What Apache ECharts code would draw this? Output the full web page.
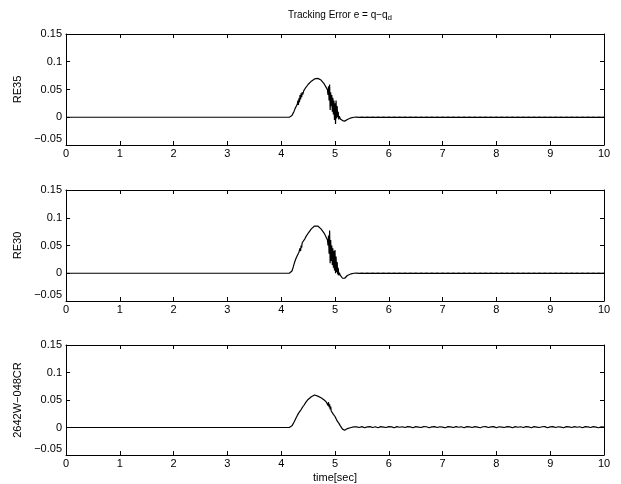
<!DOCTYPE html>
<html>
<head>
<meta charset="utf-8">
<script src="https://cdn.jsdelivr.net/npm/echarts@6/dist/echarts.min.js"></script>
<style>
  html, body { margin: 0; padding: 0; background: #fff; }
  #chart { width: 621px; height: 484px; }
</style>
</head>
<body>
<div id="chart"></div>
<script>
// panel names (y axis labels)
const panelNames = ['RE35', 'RE30', '2642W\u2212048CR'];
const xTicks = [0, 1, 2, 3, 4, 5, 6, 7, 8, 9, 10];
const yTicks = [-0.05, 0, 0.05, 0.1, 0.15];

// time samples around the transient (sec)
const tBump = [0.00, 4.00, 4.10, 4.15, 4.18, 4.20, 4.22, 4.24, 4.26, 4.28,
  4.30, 4.31, 4.32, 4.33, 4.34, 4.35, 4.36, 4.37, 4.38, 4.39,
  4.40, 4.42, 4.44, 4.46, 4.48, 4.50, 4.53, 4.56, 4.59, 4.62,
  4.65, 4.68, 4.71, 4.74, 4.77, 4.80, 4.82, 4.84, 4.86, 4.87,
  4.88, 4.89, 4.90, 4.91, 4.92, 4.93, 4.94, 4.95, 4.96, 4.97,
  4.98, 4.99, 5.00, 5.01, 5.02, 5.03, 5.04, 5.05, 5.06, 5.07,
  5.08, 5.10, 5.12, 5.14, 5.16, 5.18, 5.20, 5.23, 5.26, 5.30,
  5.35];

const re35Bump = [0, 0, 0, 0, 0.001, 0.003, 0.007, 0.011, 0.016, 0.020,
  0.024, 0.030, 0.022, 0.034, 0.027, 0.040, 0.032, 0.043, 0.036, 0.045,
  0.041, 0.048, 0.051, 0.054, 0.057, 0.059, 0.062, 0.065, 0.067, 0.069,
  0.070, 0.070, 0.069, 0.067, 0.064, 0.060, 0.057, 0.053, 0.049, 0.040,
  0.056, 0.030, 0.059, 0.013, 0.045, 0.020, 0.040, 0.010, 0.035, 0.005,
  0.030, -0.005, 0.025, -0.012, 0.030, -0.002, 0.020, 0.000, 0.010, -0.004,
  0.002, -0.003, -0.005, -0.006, -0.007, -0.007, -0.006, -0.004, -0.002, -0.001,
  0.000];

const re30Bump = [0, 0, 0, 0, 0.001, 0.004, 0.010, 0.017, 0.023, 0.028,
  0.032, 0.035, 0.033, 0.038, 0.036, 0.045, 0.040, 0.050, 0.046, 0.055,
  0.052, 0.058, 0.062, 0.066, 0.069, 0.072, 0.076, 0.080, 0.083, 0.085,
  0.086, 0.085, 0.083, 0.080, 0.076, 0.072, 0.068, 0.064, 0.060, 0.050,
  0.068, 0.035, 0.077, 0.018, 0.060, 0.022, 0.050, 0.015, 0.045, 0.010,
  0.040, 0.005, 0.042, 0.000, 0.030, 0.002, 0.020, -0.002, 0.010, -0.004,
  0.001, -0.004, -0.007, -0.009, -0.010, -0.009, -0.007, -0.004, -0.002, -0.001,
  0.000];

const cr2642Bump = [0, 0, 0, 0, 0.001, 0.003, 0.006, 0.010, 0.014, 0.018,
  0.022, 0.024, 0.025, 0.027, 0.028, 0.030, 0.031, 0.033, 0.033, 0.036,
  0.037, 0.040, 0.043, 0.046, 0.049, 0.051, 0.054, 0.056, 0.058, 0.059,
  0.060, 0.057, 0.058, 0.054, 0.052, 0.050, 0.048, 0.046, 0.045, 0.040,
  0.046, 0.037, 0.042, 0.033, 0.038, 0.030, 0.033, 0.027, 0.029, 0.024,
  0.025, 0.021, 0.020, 0.019, 0.016, 0.015, 0.012, 0.011, 0.009, 0.008,
  0.006, 0.003, 0.000, -0.003, -0.005, -0.005, -0.004, -0.002, -0.001, 0.000,
  0.001];

// time samples after settling (sec)
const tTail = [5.40, 5.45, 5.50, 5.55, 5.60, 5.65, 5.70, 5.75, 5.80, 5.85,
  5.90, 5.95, 6.00, 6.05, 6.10, 6.15, 6.20, 6.25, 6.30, 6.35,
  6.40, 6.45, 6.50, 6.55, 6.60, 6.65, 6.70, 6.75, 6.80, 6.85,
  6.90, 6.95, 7.00, 7.05, 7.10, 7.15, 7.20, 7.25, 7.30, 7.35,
  7.40, 7.45, 7.50, 7.55, 7.60, 7.65, 7.70, 7.75, 7.80, 7.85,
  7.90, 7.95, 8.00, 8.05, 8.10, 8.15, 8.20, 8.25, 8.30, 8.35,
  8.40, 8.45, 8.50, 8.55, 8.60, 8.65, 8.70, 8.75, 8.80, 8.85,
  8.90, 8.95, 9.00, 9.05, 9.10, 9.15, 9.20, 9.25, 9.30, 9.35,
  9.40, 9.45, 9.50, 9.55, 9.60, 9.65, 9.70, 9.75, 9.80, 9.85,
  9.90, 9.95, 10.00];

const re35Tail = [0.0003, -0.0002, 0.0003, -0.0003, 0.0002, -0.0003, 0.0003, -0.0002, 0.0003, -0.0002,
  0.0002, -0.0003, 0.0003, -0.0002, 0.0002, -0.0003, 0.0003, -0.0002, 0.0003, -0.0002,
  0.0002, -0.0003, 0.0003, -0.0002, 0.0003, -0.0002, 0.0002, -0.0003, 0.0003, -0.0002,
  0.0003, -0.0002, 0.0002, -0.0003, 0.0003, -0.0002, 0.0003, -0.0002, 0.0002, -0.0003,
  0.0003, -0.0002, 0.0003, -0.0002, 0.0002, -0.0003, 0.0003, -0.0002, 0.0003, -0.0002,
  0.0002, -0.0003, 0.0003, -0.0002, 0.0003, -0.0002, 0.0002, -0.0003, 0.0003, -0.0002,
  0.0003, -0.0002, 0.0002, -0.0003, 0.0003, -0.0002, 0.0003, -0.0002, 0.0002, -0.0003,
  0.0003, -0.0002, 0.0003, -0.0002, 0.0002, -0.0003, 0.0003, -0.0002, 0.0003, -0.0002,
  0.0002, -0.0003, 0.0003, -0.0002, 0.0003, -0.0002, 0.0002, -0.0003, 0.0003, -0.0002,
  0.0002, -0.0001, 0.0001];

const re30Tail = [0.0002, -0.0003, 0.0003, -0.0002, 0.0003, -0.0003, 0.0002, -0.0002, 0.0003, -0.0002,
  0.0002, -0.0003, 0.0003, -0.0002, 0.0002, -0.0002, 0.0003, -0.0002, 0.0003, -0.0003,
  0.0002, -0.0002, 0.0003, -0.0002, 0.0002, -0.0003, 0.0003, -0.0002, 0.0002, -0.0002,
  0.0003, -0.0002, 0.0003, -0.0003, 0.0002, -0.0002, 0.0003, -0.0002, 0.0002, -0.0003,
  0.0003, -0.0002, 0.0002, -0.0002, 0.0003, -0.0002, 0.0003, -0.0003, 0.0002, -0.0002,
  0.0003, -0.0002, 0.0002, -0.0003, 0.0003, -0.0002, 0.0002, -0.0002, 0.0003, -0.0002,
  0.0003, -0.0003, 0.0002, -0.0002, 0.0003, -0.0002, 0.0002, -0.0003, 0.0003, -0.0002,
  0.0002, -0.0002, 0.0003, -0.0002, 0.0003, -0.0003, 0.0002, -0.0002, 0.0003, -0.0002,
  0.0002, -0.0003, 0.0003, -0.0002, 0.0002, -0.0002, 0.0003, -0.0002, 0.0003, -0.0003,
  0.0002, -0.0002, 0.0001];

const cr2642Tail = [0.0012, 0.0000, 0.0016, -0.0004, 0.0012, 0.0016, 0.0000, 0.0014, -0.0004, 0.0016,
  0.0008, 0.0000, 0.0016, 0.0012, -0.0004, 0.0016, 0.0004, 0.0014, 0.0000, 0.0016,
  0.0012, -0.0004, 0.0016, 0.0008, 0.0000, 0.0016, 0.0014, -0.0004, 0.0012, 0.0016,
  0.0000, 0.0014, 0.0008, -0.0004, 0.0016, 0.0012, 0.0000, 0.0016, 0.0004, 0.0014,
  -0.0004, 0.0016, 0.0012, 0.0000, 0.0016, 0.0008, -0.0004, 0.0014, 0.0016, 0.0000,
  0.0012, 0.0016, -0.0004, 0.0014, 0.0008, 0.0000, 0.0016, 0.0012, -0.0004, 0.0016,
  0.0004, 0.0014, 0.0000, 0.0016, 0.0012, -0.0004, 0.0016, 0.0008, 0.0000, 0.0014,
  0.0016, -0.0004, 0.0012, 0.0016, 0.0000, 0.0014, 0.0008, -0.0004, 0.0016, 0.0012,
  0.0000, 0.0016, 0.0004, 0.0014, -0.0004, 0.0016, 0.0012, 0.0000, 0.0016, 0.0008,
  -0.0004, 0.0014, 0.0008];

const bumps = [re35Bump, re30Bump, cr2642Bump];
const tails = [re35Tail, re30Tail, cr2642Tail];

const FONT = "'Liberation Sans', Arial, Helvetica, sans-serif";
const gridTops = [34, 190, 345];
const gridH = 111;

function fmtY(v) {
  const s = String(Math.round(v * 100) / 100);
  return s.replace('-', '\u2212');
}

const chart = echarts.init(document.getElementById('chart'));

const grids = [], xAxes = [], yAxes = [], series = [];
const axisLine = { show: true, onZero: false, lineStyle: { color: '#000', width: 1 } };
const tick = { show: true, inside: true, length: 4, lineStyle: { color: '#000', width: 1 } };

gridTops.forEach((top, i) => {
  grids.push({ left: 66, right: 17, top: top, height: gridH, containLabel: false });
  const xBase = {
    type: 'value', gridIndex: i, min: xTicks[0], max: xTicks[xTicks.length - 1], interval: 1,
    axisLine: axisLine, axisTick: tick, splitLine: { show: false }
  };
  xAxes.push(Object.assign({}, xBase, {
    position: 'bottom',
    axisLabel: { show: true, color: '#000', fontFamily: FONT, fontSize: 11, margin: 3 },
    name: i === 2 ? 'time[sec]' : '',
    nameLocation: 'middle', nameGap: 17,
    nameTextStyle: { color: '#000', fontFamily: FONT, fontSize: 11 }
  }));
  xAxes.push(Object.assign({}, xBase, { position: 'top', axisLabel: { show: false } }));

  const yBase = {
    type: 'value', gridIndex: i, min: yTicks[0], max: yTicks[yTicks.length - 1], interval: 0.05,
    axisLine: axisLine, axisTick: tick, splitLine: { show: false }
  };
  yAxes.push(Object.assign({}, yBase, {
    position: 'left',
    axisLabel: {
      show: true, color: '#000', fontFamily: FONT, fontSize: 11, margin: 4,
      formatter: v => (Math.abs(v - yTicks[0]) < 1e-9 ? '{low|' + fmtY(v) + '}' : fmtY(v)),
      rich: { low: { color: '#000', fontFamily: FONT, fontSize: 11, padding: [0, 0, 12, 0] } }
    },
    name: panelNames[i], nameLocation: 'middle', nameGap: 35, nameRotate: 90,
    nameTextStyle: { color: '#000', fontFamily: FONT, fontSize: 11 }
  }));
  yAxes.push(Object.assign({}, yBase, { position: 'right', axisLabel: { show: false } }));

  const pts = tBump.map((t, k) => [t, bumps[i][k]])
    .concat(tTail.map((t, k) => [t, tails[i][k]]));
  series.push({
    type: 'line', xAxisIndex: i * 2, yAxisIndex: i * 2, data: pts,
    symbol: 'none', animation: false,
    lineStyle: { color: '#000', width: 1.2 }
  });
});

chart.setOption({
  animation: false,
  title: {
    text: '{a|Tracking Error e = q\u2212q}{sub|d}',
    left: 335, top: 5, textAlign: 'center',
    textStyle: {
      fontWeight: 'normal',
      rich: {
        a: { fontFamily: FONT, fontSize: 10, fontWeight: 'normal', color: '#000', lineHeight: 12, verticalAlign: 'top' },
        sub: { fontFamily: FONT, fontSize: 8, fontWeight: 'normal', color: '#000', lineHeight: 12, verticalAlign: 'top', padding: [4, 0, 0, 0] }
      }
    }
  },
  grid: grids,
  xAxis: xAxes,
  yAxis: yAxes,
  series: series
});
</script>
</body>
</html>
